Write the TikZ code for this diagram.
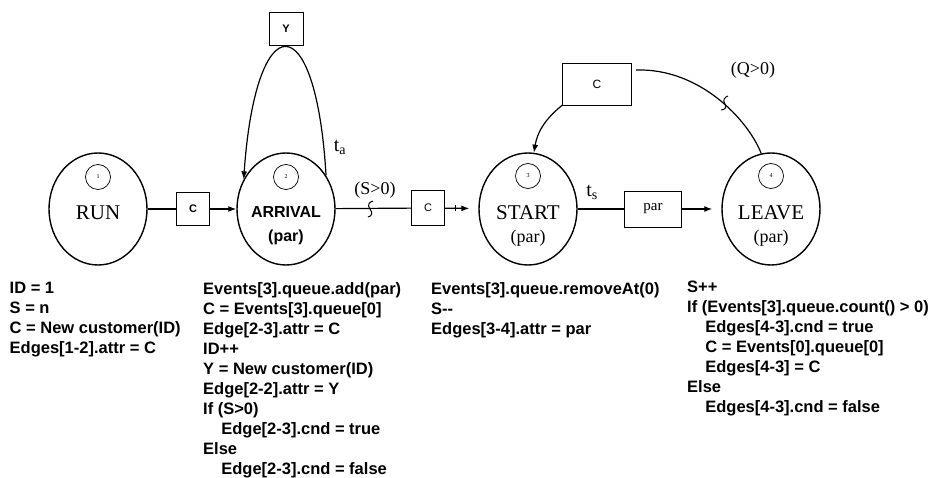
\documentclass[tikz,border=0pt]{standalone}
\usepackage{fontspec}
\setmainfont{Liberation Serif}
\newfontfamily\codefont{Liberation Sans}
\usetikzlibrary{shapes.geometric,arrows.meta}

\begin{document}
\begin{tikzpicture}[x=1pt,y=-1pt,
    state/.style={draw, ellipse, line width=1.4pt, minimum width=98pt, minimum height=112pt, inner sep=0pt},
    num/.style={draw, circle, line width=0.7pt, minimum size=25pt, inner sep=0pt, font=\fontsize{6}{6}\selectfont},
    big/.style={inner sep=0pt, font=\fontsize{21}{24}\selectfont},
    attr/.style={draw, line width=0.7pt, inner sep=0pt, font=\codefont\fontsize{11}{12}\selectfont},
    conn/.style={line width=1.2pt},
    code/.style={anchor=north west, align=left, inner sep=0pt, font=\codefont\bfseries\fontsize{16.5}{20}\selectfont},
    >={Latex[length=8pt,width=6pt]}]
  \useasboundingbox (0,0) rectangle (931,478);

  % event nodes
  \node[state] (run) at (98,209) {};
  \node[state] (arrival) at (286,209) {};
  \node[state] (start) at (528,209) {};
  \node[state] (leave) at (771,209) {};
  \node[num] (n1) at (98,177) {1};
  \node[num] (n2) at (286,177) {2};
  \node[num] (n3) at (528,176) {3};
  \node[num] (n4) at (771,176) {4};
  \node[big] (runlbl) at (98,213) {RUN};
  \node[inner sep=0pt, font=\codefont\bfseries\fontsize{16}{19}\selectfont] (arrlbl) at (286,212) {ARRIVAL};
  \node[inner sep=0pt, font=\codefont\bfseries\fontsize{16}{19}\selectfont] (arrpar) at (286,237) {(par)};
  \node[big] (startlbl) at (528,213) {START};
  \node[inner sep=0pt, font=\fontsize{18}{20}\selectfont] (startpar) at (528,238) {(par)};
  \node[big] (leavelbl) at (771,213) {LEAVE};
  \node[inner sep=0pt, font=\fontsize{18}{20}\selectfont] (leavepar) at (771,238) {(par)};

  % edge attributes
  \node[attr, minimum width=33pt, minimum height=33pt] (c1) at (193,209) {\bfseries C};
  \node[attr, minimum width=34pt, minimum height=33pt] (y) at (286,29) {\bfseries Y};
  \node[attr, minimum width=33pt, minimum height=35pt] (c2) at (428,208) {C};
  \node[attr, minimum width=57pt, minimum height=36pt, font=\fontsize{15}{16}\selectfont] (par) at (653,209) {par};
  \node[attr, minimum width=69pt, minimum height=42pt, font=\codefont\fontsize{12}{13}\selectfont] (c3) at (597,84) {C};

  \draw[conn] (run) -- (c1);
  \draw[conn, ->] (c1) -- (arrival);
  \draw[conn, ->] (arrival.40) .. controls (316,4) and (256,4) .. (arrival.145);
  \draw[conn] (arrival) -- (c2);
  \draw[conn, ->, shorten >=9pt] (c2) -- (start);
  \draw[line width=0.8pt] (455,205) -- (455,211);
  \draw[conn] (start) -- (par);
  \draw[conn, ->, shorten >=9pt] (par) -- (leave);
  \draw[conn] (leave.100) .. controls (748,120) and (700,68) .. (636,70);
  \draw[conn, ->] (c3.south west) .. controls (550,115) and (538,128) .. (start.84);

  % condition marks
  \draw[line width=1pt] (373,201) .. controls (369,202) and (367,205) .. (370,209) .. controls (373,213) and (372,216) .. (368,217);
  \draw[line width=1pt] (728,96) .. controls (725,97) and (722,100) .. (725,104) .. controls (727,107) and (725,110) .. (721,110);

  \node[inner sep=0pt, font=\fontsize{18}{20}\selectfont] (sgt) at (375,190) {(S>0)};
  \node[inner sep=0pt, font=\fontsize{18}{20}\selectfont] (qgt) at (753,70) {(Q>0)};
  \node[inner sep=0pt, font=\fontsize{20}{22}\selectfont] (ta) at (340,147) {t\textsubscript{a}};
  \node[inner sep=0pt, font=\fontsize{20}{22}\selectfont] (ts) at (592,192) {t\textsubscript{s}};

  % actions of each event
  \node[code] (runcode) at (9.5,282) {ID = 1\\S = n\\C = New customer(ID)\\Edges[1-2].attr = C};
  \node[code] (arrcode) at (203,282) {Events[3].queue.add(par)\\C = Events[3].queue[0]\\Edge[2-3].attr = C\\ID++\\Y = New customer(ID)\\Edge[2-2].attr = Y\\If (S>0)\\\hspace*{1.1em}Edge[2-3].cnd = true\\Else\\\hspace*{1.1em}Edge[2-3].cnd = false};
  \node[code] (startcode) at (431,282) {Events[3].queue.removeAt(0)\\S-{}-\\Edges[3-4].attr = par};
  \node[code] (leavecode) at (687,281) {S++\\If (Events[3].queue.count() > 0)\\\hspace*{1.1em}Edges[4-3].cnd = true\\\hspace*{1.1em}C = Events[0].queue[0]\\\hspace*{1.1em}Edges[4-3] = C\\Else\\\hspace*{1.1em}Edges[4-3].cnd = false};
\end{tikzpicture}
\end{document}
